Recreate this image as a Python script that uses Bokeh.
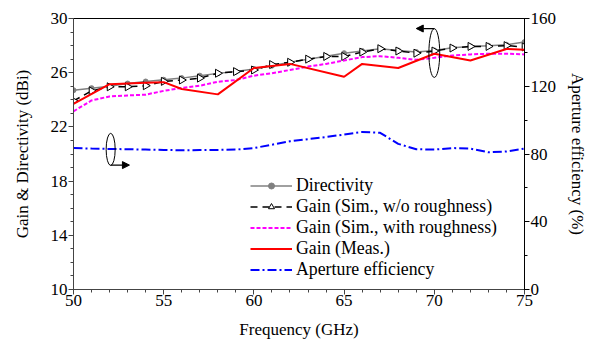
import numpy as np
from bokeh.plotting import figure
from bokeh.models import (Range1d, LinearAxis, Legend, LegendItem, Arrow,
                          NormalHead, FixedTicker)
from bokeh.embed import file_html
from bokeh.resources import INLINE

# ---------------- data ----------------
freq = list(range(50, 76))
directivity = [24.71, 24.86, 25.0, 25.2, 25.35, 25.48, 25.6, 25.78, 25.95, 26.08,
               26.28, 26.52, 26.77, 27.0, 27.22, 27.44, 27.6, 27.77, 27.64, 27.52,
               27.64, 27.84, 27.94, 27.99, 28.06, 28.26]
gain_sim = [23.92, 24.66, 24.96, 24.96, 25.04, 25.36, 25.46, 25.6, 25.96, 26.08,
            26.2, 26.6, 26.77, 27.0, 27.2, 27.2, 27.52, 27.77, 27.6, 27.44,
            27.6, 27.82, 27.94, 27.94, 28.0, 27.9]
gain_rough = [23.15, 23.95, 24.25, 24.32, 24.38, 24.66, 24.88, 25.04, 25.33, 25.46,
              25.78, 25.96, 26.2, 26.45, 26.65, 26.9, 27.15, 27.22, 27.1, 26.95,
              27.1, 27.27, 27.35, 27.4, 27.4, 27.35]
meas_freq = [50, 52, 54, 55, 56, 58, 60, 62, 65, 66, 68, 70, 72, 74, 75]
gain_meas = [23.7, 25.15, 25.25, 25.3, 24.8, 24.4, 26.35, 26.65, 25.7, 26.65,
             26.35, 27.4, 26.9, 27.75, 27.7]
efficiency = [83.5, 83.2, 83.0, 82.8, 82.6, 82.4, 82.2, 82.3, 82.4, 82.6,
              83.5, 85.5, 87.5, 88.8, 90.0, 91.5, 93.0, 92.5, 86.0, 82.8,
              82.6, 83.5, 83.2, 81.0, 81.5, 83.2]

x_ticks = [50, 55, 60, 65, 70, 75]
left_ticks = [10, 14, 18, 22, 26, 30]
right_ticks = [0, 40, 80, 120, 160]

FONT = "Liberation Serif"
FS = "17px"
FS_LEG = "17.8px"

p = figure(frame_width=451, frame_height=271, x_range=Range1d(50, 75),
           y_range=Range1d(10, 30),
           output_backend="svg", toolbar_location=None,
           min_border_left=73, min_border_right=65, min_border_top=18,
           min_border_bottom=58)
p.extra_y_ranges = {"eff": Range1d(0, 160)}
p.xgrid.visible = False
p.ygrid.visible = False
p.outline_line_color = "black"
p.outline_line_width = 1
p.background_fill_color = "white"
p.border_fill_color = "white"

# axes
p.xaxis.ticker = FixedTicker(ticks=x_ticks, minor_ticks=list(range(50, 76)))
p.yaxis.ticker = FixedTicker(ticks=left_ticks, minor_ticks=list(range(10, 31)))
p.xaxis.axis_label = "Frequency (GHz)"
p.yaxis.axis_label = "Gain & Directivity (dBi)"

right = LinearAxis(y_range_name="eff", axis_label="Aperture efficiency (%)")
right.ticker = FixedTicker(ticks=right_ticks, minor_ticks=list(range(0, 161, 20)))
p.add_layout(right, "right")

for ax in [p.xaxis[0], p.yaxis[0], right]:
    ax.major_label_text_font = FONT
    ax.major_label_text_font_size = FS
    ax.major_label_text_color = "black"
    ax.axis_label_text_font = FONT
    ax.axis_label_text_font_size = FS
    ax.axis_label_text_font_style = "normal"
    ax.axis_label_text_color = "black"
    ax.axis_line_color = "#444444"
    ax.major_tick_line_color = "#444444"
    ax.minor_tick_line_color = "#444444"
    ax.major_tick_out = 5
    ax.major_tick_in = 0
    ax.minor_tick_out = 3
    ax.minor_tick_in = 0
    ax.major_label_standoff = 1
right.axis_line_color = "black"
right.major_tick_line_color = "black"
right.minor_tick_line_color = "black"
p.xaxis.major_label_standoff = 0
p.xaxis.axis_label_standoff = 11
p.yaxis.axis_label_standoff = 16
right.axis_label_standoff = 9

# series
r_dir_l = p.line(freq, directivity, line_color="#808080", line_width=1.5)
r_dir_m = p.scatter(freq, directivity, marker="circle", size=5,
                    fill_color="#808080", line_color="#808080")
r_sim_l = p.line(freq, gain_sim, line_color="black", line_width=1.5, line_dash="7 5")
r_sim_m = p.scatter(freq, gain_sim, marker="triangle", size=8, angle=-np.pi / 2,
                    fill_color="white", line_color="black", line_width=1)
r_rough = p.line(freq, gain_rough, line_color="#FF00FF", line_width=2, line_dash="4 2")
r_meas = p.line(meas_freq, gain_meas, line_color="#FF0000", line_width=2)
r_eff = p.line(freq, efficiency, line_color="#0000FF", line_width=2,
               line_dash="9 3 2 3", y_range_name="eff")

# annotations: ellipses + arrows
p.ellipse(x=[70.0], y=[27.45], width=0.6, height=3.6, fill_color=None,
          line_color="black", line_width=1)
p.add_layout(Arrow(end=NormalHead(size=7, fill_color="black", line_color="black"),
                   x_start=70.0, y_start=29.26, x_end=69.0, y_end=29.26,
                   line_width=1.2, line_color="black"))
p.ellipse(x=[52.06], y=[20.34], width=0.5, height=2.37, fill_color=None,
          line_color="black", line_width=1)
p.add_layout(Arrow(end=NormalHead(size=7, fill_color="black", line_color="black"),
                   x_start=52.06, y_start=19.18, x_end=53.1, y_end=19.18,
                   line_width=1.2, line_color="black"))

legend = Legend(items=[
    LegendItem(label="Directivity", renderers=[r_dir_l, r_dir_m]),
    LegendItem(label="Gain (Sim., w/o roughness)", renderers=[r_sim_l, r_sim_m]),
    LegendItem(label="Gain (Sim., with roughness)", renderers=[r_rough]),
    LegendItem(label="Gain (Meas.)", renderers=[r_meas]),
    LegendItem(label="Aperture efficiency", renderers=[r_eff]),
], location=(177, 9))
legend.label_text_font = FONT
legend.label_text_font_size = FS_LEG
legend.label_text_color = "black"
legend.glyph_width = 42
legend.glyph_height = 15
legend.label_height = 21
legend.label_standoff = 4
legend.spacing = 0
legend.padding = 0
legend.margin = 0
legend.border_line_color = None
legend.background_fill_alpha = 0
p.add_layout(legend, "center")

open("out.html", "w").write(file_html(p, INLINE))
